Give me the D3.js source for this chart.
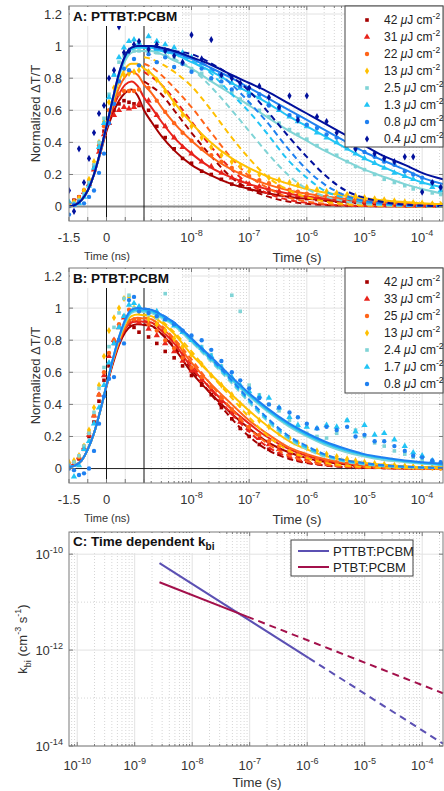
<!DOCTYPE html>
<html>
<head>
<meta charset="utf-8">
<script src="https://cdn.jsdelivr.net/npm/d3@7"></script>
<style>
body{margin:0;background:#fff;}
svg{font-family:"Liberation Sans",Arial,sans-serif;}
</style>
</head>
<body>
<svg id="fig" width="444" height="791"></svg>
<script>
// ---- time grids (early part in ns on a linear axis, late part in s on a log axis)
var fitEarlyNs = [-1.5,-1.25,-1,-0.75,-0.5,-0.25,0,0.25,0.5,0.75,1,1.25,1.5];
var fitLateS = [2e-9,3e-9,5e-9,1e-8,2e-8,5e-8,1e-7,2e-7,5e-7,1e-6,2e-6,5e-6,1e-5,2e-5,5e-5,1e-4,2.3e-4];
var dashS = [1.5e-9,2e-9,3e-9,5e-9,1e-8,2e-8,5e-8,1e-7,2e-7,5e-7,1e-6,2e-6,5e-6,1e-5,2e-5,5e-5,1e-4,2.3e-4];
var ptEarlyNs = [-1.5,-1.3,-1.1,-0.9,-0.7,-0.5,-0.3,-0.1,0.1,0.3,0.5,0.7,0.9,1.1,1.3];
var ptLateS = [1.8e-9,2.5e-9,3.5e-9,5e-9,7e-9,1e-8,1.5e-8,2.2e-8,3.3e-8,5e-8,7e-8,1e-7,1.5e-7,2.2e-7,3.3e-7,5e-7,7e-7,1e-6,1.5e-6,2.2e-6,3.3e-6,5e-6,7e-6,1e-5,1.5e-5,2.2e-5,3.3e-5,5e-5,7e-5,1e-4,1.5e-4,2.1e-4];

var colors = ["#a50000","#e8231b","#ff6419","#ffc000","#80d4d6","#22c4f5","#1f80f0","#02109c"];
var shapes = ["square","triangle","circle","diamond","square","triangle","circle","diamond"];

// ---- panel A : PTTBT:PCBM
var fluenceA = ["42","31","22","13","2.5","1.3","0.8","0.4"];
var ptsA = [
 [0.02,0.04,0.06,0.1,0.15,0.25,0.36,0.47,0.55,0.6,0.64,0.66,0.65,0.64,0.63, 0.6,0.5,0.43,0.36,0.3,0.27,0.22,0.2,0.17,0.14,0.13,0.11,0.1,0.085,0.075,0.062,0.055,0.05,0.044,0.04,0.034,0.03,0.026,0.022,0.02,0.018,0.015,0.012,0.011,0.009,0.007,0.006],
 [0.01,0.03,0.05,0.09,0.14,0.23,0.34,0.45,0.52,0.57,0.6,0.62,0.61,0.62,0.64, 0.66,0.57,0.5,0.43,0.37,0.33,0.28,0.25,0.21,0.18,0.16,0.14,0.125,0.11,0.095,0.08,0.07,0.063,0.056,0.05,0.043,0.037,0.033,0.029,0.025,0.022,0.019,0.016,0.014,0.012,0.01,0.008],
 [0.02,0.03,0.06,0.1,0.16,0.26,0.38,0.5,0.6,0.66,0.7,0.72,0.72,0.72,0.73, 0.74,0.66,0.59,0.52,0.46,0.41,0.36,0.32,0.28,0.24,0.21,0.19,0.165,0.145,0.125,0.105,0.092,0.08,0.071,0.064,0.056,0.048,0.043,0.037,0.032,0.028,0.024,0.02,0.017,0.015,0.012,0.01],
 [0.01,0.03,0.05,0.1,0.17,0.28,0.4,0.53,0.65,0.74,0.8,0.82,0.83,0.84,0.85, 0.84,0.79,0.72,0.64,0.57,0.5,0.43,0.37,0.32,0.28,0.25,0.22,0.2,0.18,0.165,0.15,0.135,0.12,0.105,0.095,0.085,0.075,0.065,0.056,0.048,0.042,0.035,0.029,0.025,0.021,0.017,0.014],
 [0,0.02,0.04,0.08,0.15,0.26,0.4,0.55,0.7,0.82,0.9,0.94,0.96,0.97,0.97, 0.97,0.96,0.94,0.92,0.89,0.86,0.83,0.79,0.75,0.71,0.67,0.64,0.6,0.56,0.52,0.48,0.45,0.42,0.38,0.35,0.32,0.28,0.25,0.23,0.2,0.17,0.15,0.13,0.11,0.1,0.085,0.075],
 [0.03,0.01,0.02,0.06,0.13,0.24,0.37,0.52,0.68,0.82,0.93,0.99,1.03,1.04,1.02, 1.06,1.03,1.01,0.99,0.96,0.93,0.89,0.85,0.81,0.77,0.74,0.71,0.68,0.64,0.6,0.56,0.53,0.5,0.46,0.43,0.4,0.36,0.33,0.3,0.27,0.24,0.21,0.19,0.17,0.15,0.12,0.1],
 [-0.05,0.01,0.03,0.02,0.06,0.1,0.21,0.33,0.52,0.64,0.78,0.86,0.85,0.92,0.88, 0.95,0.9,0.93,0.87,0.89,0.84,0.86,0.8,0.78,0.73,0.75,0.69,0.7,0.63,0.61,0.57,0.56,0.51,0.49,0.45,0.43,0.39,0.36,0.34,0.31,0.28,0.26,0.22,0.2,0.18,0.15,0.12],
 [0.1,-0.03,0.36,0.15,0.3,0.46,0.58,0.63,0.8,0.85,1.12,0.96,0.97,1.01,1.03, 0.98,1.01,0.97,0.94,0.9,1.07,0.92,1.04,0.82,0.8,0.77,0.74,0.75,0.68,0.62,0.69,0.54,0.69,0.56,0.53,0.46,0.42,0.36,0.4,0.33,0.3,0.28,0.31,0.31,0.09,0.15,0.12]
];
var fitA = [
 [0,0.01,0.04,0.1,0.2,0.33,0.47,0.58,0.66,0.71,0.73,0.69,0.6, 0.53,0.44,0.35,0.26,0.2,0.14,0.11,0.085,0.06,0.048,0.038,0.028,0.022,0.017,0.012,0.009,0.006],
 [0,0.01,0.04,0.1,0.2,0.34,0.49,0.61,0.7,0.76,0.78,0.75,0.68, 0.62,0.53,0.43,0.33,0.25,0.18,0.14,0.11,0.08,0.063,0.05,0.037,0.029,0.022,0.016,0.012,0.008],
 [0,0.01,0.04,0.1,0.2,0.34,0.5,0.63,0.74,0.81,0.84,0.82,0.76, 0.71,0.62,0.52,0.41,0.32,0.23,0.18,0.14,0.1,0.08,0.064,0.048,0.037,0.028,0.02,0.015,0.01],
 [0,0.01,0.04,0.1,0.2,0.34,0.5,0.65,0.78,0.86,0.89,0.89,0.86, 0.83,0.76,0.65,0.52,0.41,0.3,0.24,0.19,0.14,0.11,0.088,0.066,0.052,0.04,0.028,0.02,0.014],
 [0,0.01,0.04,0.1,0.2,0.34,0.5,0.66,0.81,0.91,0.96,0.97,0.97, 0.97,0.95,0.91,0.86,0.79,0.7,0.63,0.56,0.47,0.41,0.35,0.28,0.23,0.19,0.14,0.11,0.08],
 [0,0.01,0.04,0.1,0.2,0.34,0.5,0.67,0.82,0.93,0.98,0.99,0.99, 0.99,0.97,0.95,0.9,0.85,0.77,0.71,0.65,0.56,0.5,0.44,0.36,0.3,0.25,0.19,0.15,0.12],
 [0,0.01,0.04,0.1,0.2,0.34,0.5,0.67,0.83,0.94,0.99,1,1, 1,0.98,0.96,0.92,0.87,0.8,0.74,0.68,0.6,0.54,0.48,0.4,0.34,0.29,0.23,0.18,0.14],
 [0,0.01,0.04,0.1,0.2,0.34,0.5,0.67,0.83,0.94,0.99,1,1, 1,0.99,0.97,0.93,0.89,0.82,0.77,0.72,0.64,0.58,0.52,0.44,0.38,0.32,0.26,0.21,0.17]
];
var dashA = [
 [0.78,0.75,0.7,0.6,0.46,0.33,0.18,0.11,0.065,0.03,0.017,0.01,0.005,0.003,0.002,0.001,0,0],
 [0.84,0.81,0.76,0.67,0.53,0.39,0.23,0.14,0.085,0.04,0.023,0.013,0.006,0.003,0.002,0.001,0,0],
 [0.89,0.87,0.82,0.74,0.62,0.48,0.3,0.19,0.12,0.055,0.032,0.018,0.008,0.004,0.002,0.001,0,0],
 [0.93,0.92,0.89,0.84,0.75,0.62,0.43,0.3,0.19,0.1,0.058,0.032,0.014,0.008,0.004,0.002,0.001,0],
 [0.97,0.96,0.95,0.92,0.86,0.76,0.6,0.47,0.34,0.19,0.11,0.065,0.03,0.016,0.008,0.004,0.002,0.001],
 [0.99,0.98,0.97,0.95,0.91,0.84,0.7,0.59,0.46,0.28,0.18,0.1,0.05,0.028,0.015,0.006,0.003,0.002],
 [1,0.99,0.98,0.96,0.93,0.87,0.76,0.65,0.53,0.35,0.23,0.14,0.065,0.036,0.02,0.008,0.004,0.002],
 [1,1,0.99,0.97,0.95,0.9,0.81,0.72,0.6,0.43,0.31,0.2,0.095,0.055,0.03,0.012,0.006,0.003]
];

// ---- panel B : PTBT:PCBM
var fluenceB = ["42","33","25","13","2.4","1.7","0.8"];
var ptsB = [
 [0.02,0.03,0.06,0.12,0.2,0.29,0.42,0.55,0.64,0.78,0.8,0.86,0.9,0.88,0.85, 0.82,0.78,0.73,0.69,0.64,0.58,0.52,0.46,0.38,0.31,0.25,0.2,0.15,0.12,0.09,0.07,0.055,0.045,0.035,0.028,0.022,0.017,0.013,0.01,0.008,0.006,0.005,0.004,0.003,0.002,0.002,0.001],
 [0.03,0.03,0.07,0.13,0.21,0.33,0.46,0.58,0.7,0.8,0.88,0.94,0.92,0.92,0.91, 0.87,0.83,0.78,0.73,0.67,0.61,0.55,0.49,0.42,0.35,0.29,0.24,0.19,0.15,0.12,0.095,0.075,0.06,0.048,0.038,0.03,0.023,0.018,0.014,0.011,0.009,0.007,0.005,0.004,0.003,0.002,0.002],
 [0.02,0.04,0.07,0.14,0.22,0.33,0.46,0.6,0.72,0.8,0.9,0.95,0.99,0.93,0.93, 0.9,0.86,0.8,0.75,0.69,0.63,0.57,0.51,0.44,0.37,0.31,0.26,0.21,0.17,0.14,0.11,0.088,0.07,0.056,0.045,0.036,0.028,0.022,0.017,0.013,0.01,0.008,0.006,0.005,0.004,0.003,0.002],
 [0.04,0.05,0.08,0.14,0.24,0.38,0.52,0.7,0.86,0.94,1,1.06,1.07,1,0.98, 0.93,0.9,0.86,0.81,0.76,0.71,0.65,0.58,0.52,0.46,0.4,0.35,0.3,0.26,0.22,0.19,0.16,0.13,0.11,0.09,0.075,0.06,0.048,0.04,0.032,0.026,0.02,0.016,0.012,0.01,0.008,0.006],
 [0.02,0.04,0.08,0.14,0.22,0.35,0.5,0.63,0.76,0.88,0.97,1.06,1.08,1,0.99, 0.96,0.94,1.09,0.9,0.86,0.81,0.76,0.71,0.64,1.08,0.98,0.52,0.46,0.4,0.36,0.3,0.25,0.22,0.2,0.19,0.22,0.3,0.24,0.2,0.16,0.14,0.11,0.09,0.07,0.05,0.04,0.03],
 [0.01,-0.05,0.02,0.12,0.17,0.28,0.38,0.52,0.66,0.78,0.88,0.95,1.02,1.03,1.01, 1.14,0.98,0.93,0.89,0.85,0.8,0.75,0.7,0.63,0.57,0.52,0.48,0.45,0.44,0.38,0.32,0.27,0.26,0.25,0.27,0.26,0.3,0.23,0.27,0.21,0.22,0.18,0.14,0.1,0.08,0.05,0.03],
 [0,-0.01,-0.04,-0.03,0,0.11,0.28,0.45,0.56,0.57,0.8,0.78,1.05,1.07,0.98, 0.97,0.95,0.93,0.9,0.86,0.83,0.8,0.74,0.67,0.6,0.55,0.5,0.44,0.4,0.38,0.35,0.32,0.28,0.25,0.26,0.24,0.26,0.2,0.21,0.17,0.17,0.14,0.11,0.08,0.07,0.05,0.04]
];
var fitB = [
 [0.01,0.02,0.05,0.12,0.22,0.36,0.51,0.65,0.77,0.85,0.89,0.9,0.895, 0.89,0.84,0.75,0.6,0.48,0.34,0.25,0.17,0.1,0.065,0.042,0.025,0.017,0.012,0.008,0.005,0.004],
 [0.01,0.02,0.05,0.12,0.22,0.36,0.52,0.66,0.78,0.87,0.91,0.92,0.915, 0.91,0.86,0.78,0.63,0.51,0.37,0.28,0.2,0.12,0.08,0.052,0.03,0.02,0.014,0.009,0.006,0.005],
 [0.01,0.02,0.05,0.12,0.22,0.36,0.52,0.67,0.79,0.88,0.93,0.94,0.935, 0.93,0.88,0.8,0.66,0.54,0.4,0.3,0.22,0.13,0.09,0.06,0.035,0.025,0.017,0.011,0.008,0.006],
 [0.01,0.02,0.05,0.12,0.22,0.36,0.52,0.67,0.8,0.9,0.95,0.96,0.955, 0.95,0.91,0.84,0.71,0.6,0.46,0.36,0.27,0.17,0.12,0.08,0.05,0.035,0.025,0.015,0.01,0.008],
 [0.01,0.02,0.05,0.12,0.22,0.36,0.52,0.68,0.81,0.91,0.97,0.98,0.975, 0.97,0.94,0.89,0.79,0.69,0.55,0.45,0.36,0.26,0.2,0.15,0.1,0.075,0.055,0.04,0.03,0.02],
 [0.01,0.02,0.05,0.12,0.22,0.36,0.52,0.68,0.82,0.92,0.98,0.99,0.985, 0.98,0.95,0.9,0.8,0.7,0.56,0.46,0.37,0.27,0.21,0.16,0.11,0.085,0.065,0.045,0.035,0.025],
 [0.01,0.02,0.05,0.12,0.22,0.36,0.52,0.68,0.82,0.93,0.99,1,0.995, 0.99,0.96,0.91,0.81,0.71,0.57,0.47,0.38,0.28,0.22,0.17,0.12,0.09,0.07,0.05,0.04,0.03]
];
var dashB = [
 [0.9,0.89,0.84,0.76,0.62,0.48,0.31,0.2,0.12,0.06,0.034,0.019,0.008,0.004,0.003,0.001,0.001,0],
 [0.92,0.91,0.87,0.79,0.65,0.51,0.34,0.23,0.14,0.07,0.04,0.022,0.01,0.005,0.003,0.002,0.001,0],
 [0.94,0.93,0.89,0.81,0.68,0.54,0.37,0.25,0.16,0.08,0.045,0.025,0.011,0.006,0.004,0.002,0.001,0],
 [0.96,0.95,0.92,0.85,0.73,0.6,0.44,0.32,0.21,0.11,0.065,0.037,0.017,0.01,0.006,0.003,0.002,0.001],
 [0.98,0.97,0.94,0.89,0.79,0.68,0.53,0.41,0.3,0.18,0.12,0.075,0.04,0.025,0.015,0.008,0.005,0.003],
 [0.99,0.98,0.95,0.9,0.8,0.69,0.54,0.42,0.31,0.19,0.13,0.085,0.045,0.03,0.018,0.01,0.006,0.003],
 [1,0.99,0.96,0.91,0.81,0.7,0.55,0.43,0.32,0.2,0.14,0.09,0.05,0.035,0.022,0.012,0.007,0.004]
];

// ---- panel C : time dependent k_bi
var kbiNames = ["PTTBT:PCBM","PTBT:PCBM"];
var kbiColors = ["#5b50b3","#a3104b"];
var kbiSolidT = [[2.7e-9,1.07e-6],[2.7e-9,9e-8]];
var kbiSolidK = [[6.5e-11,6.8e-13],[2.6e-11,5.0e-12]];
var kbiDashT = [[1.07e-6,2.3e-4],[9e-8,2.3e-4]];
var kbiDashK = [[6.8e-13,1.12e-14],[5.0e-12,1.26e-13]];

var svg = d3.select("#fig");
var L = 69, R = 443, BRK = 144;
var gridCol = "#e2e2e2", axCol = "#7a7a7a", txtCol = "#333";

var xLin = d3.scaleLinear().domain([-1.5, 1.5]).range([L, BRK]);
var xLog = d3.scaleLog().domain([1.5e-9, 2.3e-4]).range([BRK, R]);
function xT(t){ return t <= 1.5e-9 ? xLin(t * 1e9) : xLog(t); }

function sym(shape){
  if(shape=="square") return d3.symbol(d3.symbolSquare, 13)();
  if(shape=="triangle") return d3.symbol(d3.symbolTriangle, 17)();
  if(shape=="circle") return d3.symbol(d3.symbolCircle, 15)();
  return d3.symbol(d3.symbolDiamond, 15)();
}

function powText(g, x, y, exp, anchor, fs){
  var t = g.append("text").attr("x", x).attr("y", y).attr("text-anchor", anchor)
    .attr("font-size", fs).attr("fill", txtCol);
  t.append("tspan").text("10");
  t.append("tspan").attr("dy", -6).attr("font-size", fs*0.7).text(exp);
  return t;
}

function decadeMinors(lo, hi){
  var out = [];
  for(var e = -11; e <= -3; e++){
    for(var k = 2; k <= 9; k++){
      var v = k * Math.pow(10, e);
      if(v > lo && v < hi) out.push(v);
    }
  }
  return out;
}

function kineticPanel(top, title, fluence, pts, fits, dashes, zeroCol, zeroW, legendH, id){
  var bot = top + 215;
  var y = d3.scaleLinear().domain([-0.09, 1.25]).range([bot, top]);
  var g = svg.append("g");

  // grid
  var yTicks = [0,0.2,0.4,0.6,0.8,1,1.2];
  yTicks.forEach(function(v){
    if(v>0) g.append("line").attr("x1",L).attr("x2",R).attr("y1",y(v)).attr("y2",y(v)).attr("stroke",gridCol);
  });
  [-0.75,0.75].forEach(function(v){
    g.append("line").attr("x1",xLin(v)).attr("x2",xLin(v)).attr("y1",top).attr("y2",bot).attr("stroke",gridCol);
  });
  var majors = [1e-8,1e-7,1e-6,1e-5,1e-4];
  var minors = decadeMinors(1.5e-9, 2.3e-4);
  minors.forEach(function(v){
    g.append("line").attr("x1",xLog(v)).attr("x2",xLog(v)).attr("y1",top).attr("y2",bot)
      .attr("stroke","#d6d6d6").attr("stroke-dasharray","1,2");
  });
  majors.forEach(function(v){
    g.append("line").attr("x1",xLog(v)).attr("x2",xLog(v)).attr("y1",top).attr("y2",bot).attr("stroke",gridCol);
  });
  g.append("line").attr("x1",L).attr("x2",R).attr("y1",y(0)).attr("y2",y(0))
    .attr("stroke",zeroCol).attr("stroke-width",zeroW);
  [0,1.5].forEach(function(v){
    g.append("line").attr("x1",xLin(v)).attr("x2",xLin(v)).attr("y1",top).attr("y2",bot)
      .attr("stroke","#111").attr("stroke-width",1);
  });

  // data
  svg.append("clipPath").attr("id","clip"+id).append("rect")
    .attr("x",L).attr("y",top).attr("width",R-L).attr("height",bot-top);
  var dg = g.append("g").attr("clip-path","url(#clip"+id+")");
  var ptT = ptEarlyNs.map(function(n){ return n*1e-9; }).concat(ptLateS);
  var fitT = fitEarlyNs.map(function(n){ return n*1e-9; }).concat(fitLateS);
  var line = d3.line().x(function(d){ return d[0]; }).y(function(d){ return d[1]; }).curve(d3.curveMonotoneX);
  for(var i = 0; i < fluence.length; i++){
    var c = colors[i];
    dg.append("g").selectAll("path").data(pts[i]).enter().append("path")
      .attr("d", sym(shapes[i]))
      .attr("transform", function(d,j){ return "translate(" + xT(ptT[j]) + "," + y(d) + ")"; })
      .attr("fill", c);
    dg.append("path").datum(fits[i].map(function(v,j){ return [xT(fitT[j]), y(v)]; }))
      .attr("d", line).attr("fill","none").attr("stroke",c).attr("stroke-width",2);
    dg.append("path").datum(dashes[i].map(function(v,j){ return [xT(dashS[j]), y(v)]; }))
      .attr("d", line).attr("fill","none").attr("stroke",c).attr("stroke-width",2)
      .attr("stroke-dasharray","6,4");
  }

  // frame and ticks
  g.append("rect").attr("x",L).attr("y",top).attr("width",R-L).attr("height",bot-top)
    .attr("fill","none").attr("stroke",axCol);
  yTicks.forEach(function(v){
    g.append("line").attr("x1",L).attr("x2",L+4).attr("y1",y(v)).attr("y2",y(v)).attr("stroke",axCol);
    g.append("line").attr("x1",R-4).attr("x2",R).attr("y1",y(v)).attr("y2",y(v)).attr("stroke",axCol);
    g.append("text").attr("x",62).attr("y",y(v)+4.5).attr("text-anchor","end")
      .attr("font-size",13).attr("fill",txtCol).text(String(v));
  });
  var xt = [-1.5,-0.75,0,0.75].map(function(v){ return xLin(v); })
    .concat(majors.map(function(v){ return xLog(v); }));
  xt.push(BRK);
  xt.forEach(function(px){
    g.append("line").attr("x1",px).attr("x2",px).attr("y1",bot).attr("y2",bot-4).attr("stroke",axCol);
    g.append("line").attr("x1",px).attr("x2",px).attr("y1",top).attr("y2",top+4).attr("stroke",axCol);
  });
  minors.forEach(function(v){
    g.append("line").attr("x1",xLog(v)).attr("x2",xLog(v)).attr("y1",bot).attr("y2",bot-2).attr("stroke",axCol);
    g.append("line").attr("x1",xLog(v)).attr("x2",xLog(v)).attr("y1",top).attr("y2",top+2).attr("stroke",axCol);
  });
  [-1.5,0].forEach(function(v){
    g.append("text").attr("x",xLin(v)).attr("y",bot+21).attr("text-anchor","middle")
      .attr("font-size",13).attr("fill",txtCol).text(String(v));
  });
  majors.forEach(function(v){
    powText(g, xLog(v), bot+21, String(Math.round(Math.log10(v))), "middle", 13);
  });
  g.append("text").attr("x",107).attr("y",bot+39).attr("text-anchor","middle")
    .attr("font-size",11).attr("fill",txtCol).text("Time (ns)");
  g.append("text").attr("x",297).attr("y",bot+41).attr("text-anchor","middle")
    .attr("font-size",13.5).attr("fill",txtCol).text("Time (s)");
  g.append("text").attr("transform","translate(40," + ((top+bot)/2) + ") rotate(-90)")
    .attr("text-anchor","middle").attr("font-size",13).attr("fill",txtCol)
    .text("Normalized \u0394T/T");

  // title
  g.append("rect").attr("x",L+1).attr("y",top+1).attr("width",112).attr("height",19).attr("fill","#fff");
  g.append("text").attr("x",73).attr("y",top+15).attr("font-size",13.5).attr("font-weight","bold")
    .attr("fill","#111").text(title);

  // legend
  g.append("rect").attr("x",345).attr("y",top).attr("width",R-345).attr("height",legendH)
    .attr("fill","#fff").attr("stroke","#444");
  fluence.forEach(function(f,i){
    var ly = top + 14 + i*17;
    g.append("path").attr("d", sym(shapes[i])).attr("transform","translate(367," + ly + ")").attr("fill",colors[i]);
    var t = g.append("text").attr("x",384).attr("y",ly+4).attr("font-size",12).attr("fill","#222");
    t.append("tspan").text(f + " ");
    t.append("tspan").attr("font-style","italic").text("\u03bc");
    t.append("tspan").text("J cm");
    t.append("tspan").attr("dy",-5).attr("font-size",8.5).text("-2");
  });
}

kineticPanel(6, "A: PTTBT:PCBM", fluenceA, ptsA, fitA, dashA, "#8c8c8c", 2, 141, "A");
kineticPanel(268, "B: PTBT:PCBM", fluenceB, ptsB, fitB, dashB, "#222", 1, 125, "B");

// ---- panel C
(function(){
  var top = 532, bot = 746;
  var x = d3.scaleLog().domain([7.2e-11, 2.3e-4]).range([L, R]);
  var y = d3.scaleLog().domain([1e-14, 2.9e-10]).range([bot, top]);
  var g = svg.append("g");
  var xMaj = [1e-10,1e-9,1e-8,1e-7,1e-6,1e-5,1e-4];
  var xMin = decadeMinors(7.2e-11, 2.3e-4);
  xMin.forEach(function(v){
    g.append("line").attr("x1",x(v)).attr("x2",x(v)).attr("y1",top).attr("y2",bot)
      .attr("stroke","#d6d6d6").attr("stroke-dasharray","1,2");
  });
  [1e-11,1e-13].forEach(function(v){
    g.append("line").attr("x1",L).attr("x2",R).attr("y1",y(v)).attr("y2",y(v))
      .attr("stroke","#d6d6d6").attr("stroke-dasharray","1,2");
  });
  xMaj.forEach(function(v){
    g.append("line").attr("x1",x(v)).attr("x2",x(v)).attr("y1",top).attr("y2",bot).attr("stroke",gridCol);
  });
  var yMaj = [1e-10,1e-12,1e-14];
  yMaj.forEach(function(v){
    g.append("line").attr("x1",L).attr("x2",R).attr("y1",y(v)).attr("y2",y(v)).attr("stroke",gridCol);
  });

  var line = d3.line().x(function(d){ return x(d[0]); }).y(function(d){ return y(d[1]); });
  for(var i = 0; i < kbiNames.length; i++){
    g.append("path").datum(kbiSolidT[i].map(function(t,j){ return [t, kbiSolidK[i][j]]; }))
      .attr("d", line).attr("fill","none").attr("stroke",kbiColors[i]).attr("stroke-width",2);
    g.append("path").datum(kbiDashT[i].map(function(t,j){ return [t, kbiDashK[i][j]]; }))
      .attr("d", line).attr("fill","none").attr("stroke",kbiColors[i]).attr("stroke-width",2)
      .attr("stroke-dasharray","7,5");
  }

  g.append("rect").attr("x",L).attr("y",top).attr("width",R-L).attr("height",bot-top)
    .attr("fill","none").attr("stroke",axCol);
  xMaj.forEach(function(v){
    g.append("line").attr("x1",x(v)).attr("x2",x(v)).attr("y1",bot).attr("y2",bot-4).attr("stroke",axCol);
    g.append("line").attr("x1",x(v)).attr("x2",x(v)).attr("y1",top).attr("y2",top+4).attr("stroke",axCol);
    powText(g, x(v), bot+24, String(Math.round(Math.log10(v))), "middle", 13);
  });
  xMin.forEach(function(v){
    g.append("line").attr("x1",x(v)).attr("x2",x(v)).attr("y1",bot).attr("y2",bot-2).attr("stroke",axCol);
    g.append("line").attr("x1",x(v)).attr("x2",x(v)).attr("y1",top).attr("y2",top+2).attr("stroke",axCol);
  });
  yMaj.forEach(function(v){
    g.append("line").attr("x1",L).attr("x2",L+4).attr("y1",y(v)).attr("y2",y(v)).attr("stroke",axCol);
    g.append("line").attr("x1",R-4).attr("x2",R).attr("y1",y(v)).attr("y2",y(v)).attr("stroke",axCol);
    powText(g, 63, y(v)+5, String(Math.round(Math.log10(v))), "end", 13);
  });
  g.append("text").attr("x",257).attr("y",787).attr("text-anchor","middle")
    .attr("font-size",13.5).attr("fill",txtCol).text("Time (s)");

  var yl = g.append("text").attr("transform","translate(27," + ((top+bot)/2) + ") rotate(-90)")
    .attr("text-anchor","middle").attr("font-size",13).attr("fill",txtCol);
  yl.append("tspan").text("k");
  yl.append("tspan").attr("dy",4).attr("font-size",9).text("bi");
  yl.append("tspan").attr("dy",-4).text(" (cm");
  yl.append("tspan").attr("dy",-6).attr("font-size",9).text("-3");
  yl.append("tspan").attr("dy",6).text(" s");
  yl.append("tspan").attr("dy",-6).attr("font-size",9).text("-1");
  yl.append("tspan").attr("dy",6).text(")");

  g.append("rect").attr("x",L+1).attr("y",top+1).attr("width",150).attr("height",20).attr("fill","#fff");
  var tt = g.append("text").attr("x",73).attr("y",top+14).attr("font-size",13.5)
    .attr("font-weight","bold").attr("fill","#111");
  tt.append("tspan").text("C: Time dependent k");
  tt.append("tspan").attr("dy",4).attr("font-size",10).text("bi");

  g.append("rect").attr("x",291).attr("y",540).attr("width",122).attr("height",36)
    .attr("fill","#fff").attr("stroke","#444");
  kbiNames.forEach(function(n,i){
    var ly = 551 + i*16;
    g.append("line").attr("x1",298).attr("x2",329).attr("y1",ly).attr("y2",ly)
      .attr("stroke",kbiColors[i]).attr("stroke-width",2);
    g.append("text").attr("x",333).attr("y",ly+4.5).attr("font-size",13).attr("fill","#222").text(n);
  });
})();
</script>
</body>
</html>
